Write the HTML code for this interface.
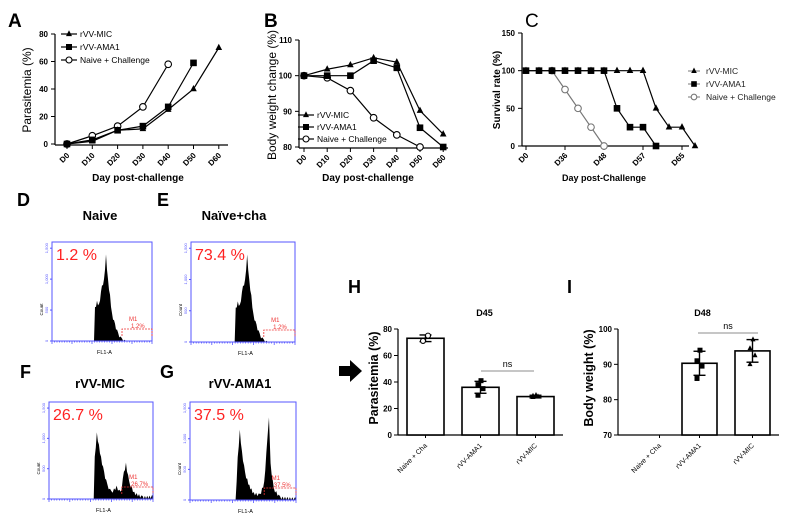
<!DOCTYPE html>
<html><head><meta charset="utf-8"><style>
body{margin:0;background:#fff}
svg{display:block;font-family:"Liberation Sans",Arial,sans-serif}
</style></head><body>
<svg id="fig" width="795" height="525" viewBox="0 0 795 525" xmlns="http://www.w3.org/2000/svg"></svg>
<script>
// ===== Data =====
const dayLabelsAB = ["D0","D10","D20","D30","D40","D50","D60"];
const paraMIC = [0,2,10,11,25,40,70];
const paraAMA1 = [0,3,10,13,27,59,null];
const paraNaive = [0,6,13,27,58,null,null];
const bwMIC = [100,101.8,103,105,103.8,90.2,83.6];
const bwAMA1 = [100,100,100,104.2,102.2,85.4,80];
const bwNaive = [100,99.4,95.8,88.2,83.4,80,null];
const survTickLabels = ["D0","D36","D48","D57","D65"];
const survTickIdx = [0,3,6,9,12];
const survMIC = [100,100,100,100,100,100,100,100,100,100,50,25,25,0];
const survAMA1 = [100,100,100,100,100,100,100,50,25,25,0,null,null,null];
const survNaive = [null,null,100,75,50,25,0,null,null,null,null,null,null,null];
const barCats = ["Naive + Cha","rVV-AMA1","rVV-MIC"];
const hValues = [73,36,29];
const hErr = [2.5,4.5,1];
const hPoints = [[71,75],[30,35,38,41],[28.5,29,29.5,30]];
const iValues = [null,90.3,93.8];
const iErr = [null,3.4,3.2];
const iPoints = [[],[86,89.5,91,94],[90,92.5,94.5,97]];
const histD = [[0.42,0],[0.43,550],[0.45,650],[0.47,600],[0.5,900],[0.52,1000],[0.54,1400],[0.56,1000],[0.58,750],[0.6,450],[0.63,280],[0.66,140],[0.7,40],[0.75,0]];
const histE = [[0.42,0],[0.43,550],[0.45,650],[0.47,600],[0.5,900],[0.52,1000],[0.54,1400],[0.56,1000],[0.58,750],[0.6,450],[0.63,280],[0.66,140],[0.7,40],[0.75,0]];
const histF = [[0.43,0],[0.44,700],[0.46,1100],[0.48,900],[0.5,700],[0.53,450],[0.56,250],[0.6,130],[0.65,220],[0.69,120],[0.72,450],[0.74,600],[0.77,300],[0.82,120],[0.9,50],[1,60]];
const histG = [[0.43,0],[0.45,700],[0.47,1150],[0.49,800],[0.52,450],[0.56,250],[0.6,130],[0.66,100],[0.7,300],[0.73,1000],[0.745,1350],[0.76,600],[0.79,200],[0.85,60],[1,40]];

const NS="http://www.w3.org/2000/svg";
const svg=document.getElementById('fig');
function el(tag,attrs,parent,text){const e=document.createElementNS(NS,tag);for(const k in attrs)e.setAttribute(k,attrs[k]);if(text!==undefined)e.textContent=text;(parent||svg).appendChild(e);return e;}
function g(name){const e=el('g',{});return e;}
function txt(p,x,y,s,o){const t=el('text',Object.assign({x:x,y:y},o||{}),p,s);return t;}
function marker(p,type,x,y,s){s=s||3.3;
 if(type==='tri')return el('polygon',{points:`${x},${y-s-0.7} ${x-s},${y+s*0.7} ${x+s},${y+s*0.7}`,fill:'#000'},p);
 if(type==='sq')return el('rect',{x:x-s,y:y-s,width:2*s,height:2*s,fill:'#000'},p);
 return el('circle',{cx:x,cy:y,r:s,fill:'#fff',stroke:p.__c||'#000','stroke-width':1.1},p);}
function series(p,vals,xf,yf,type,color){const pts=[];vals.forEach((v,i)=>{if(v!==null)pts.push([xf(i),yf(v)]);});
 el('polyline',{points:pts.map(q=>q.join(',')).join(' '),fill:'none',stroke:color||'#000','stroke-width':1.2},p);
 p.__c=color;pts.forEach(q=>marker(p,type,q[0],q[1]));}

// ===== Panel A =====
(function(){const p=g('panel-a');
 const x=i=>67+i*25.3,y=v=>144-v*(110/80);
 txt(p,8,27,'A',{'font-size':19,'font-weight':'bold'});
 el('line',{x1:55,y1:34,x2:55,y2:145,stroke:'#000','stroke-width':1.2},p);
 el('line',{x1:55,y1:145,x2:228,y2:145,stroke:'#000','stroke-width':1.2},p);
 [0,20,40,60,80].forEach(v=>{el('line',{x1:51,y1:y(v),x2:55,y2:y(v),stroke:'#000'},p);txt(p,48,y(v)+3,v,{'font-size':8,'font-weight':'bold','text-anchor':'end'});});
 dayLabelsAB.forEach((l,i)=>{el('line',{x1:x(i),y1:145,x2:x(i),y2:149,stroke:'#000'},p);txt(p,x(i)+3,156,l,{'font-size':8,'font-weight':'bold','text-anchor':'end',transform:`rotate(-45 ${x(i)+3} 156)`});});
 txt(p,31,90,'Parasitemia (%)',{'font-size':12,'text-anchor':'middle',transform:'rotate(-90 31 90)'});
 txt(p,138,181,'Day post-challenge',{'font-size':10,'font-weight':'bold','text-anchor':'middle'});
 series(p,paraNaive,x,y,'circ');series(p,paraAMA1,x,y,'sq');series(p,paraMIC,x,y,'tri');
 const lg=g('legend-a');[['tri','rVV-MIC',34],['sq','rVV-AMA1',47],['circ','Naive + Challenge',60]].forEach(r=>{el('line',{x1:61,y1:r[2],x2:77,y2:r[2],stroke:'#000','stroke-width':1.2},lg);marker(lg,r[0],69,r[2],3);txt(lg,80,r[2]+3,r[1],{'font-size':8.5});});
})();
// ===== Panel B =====
(function(){const p=g('panel-b');
 const x=i=>304+i*23.2,y=v=>147-(v-80)*(107/30);
 txt(p,264,27,'B',{'font-size':19,'font-weight':'bold'});
 el('line',{x1:299,y1:40,x2:299,y2:148,stroke:'#000','stroke-width':1.2},p);
 el('line',{x1:299,y1:148,x2:448,y2:148,stroke:'#000','stroke-width':1.2},p);
 [80,90,100,110].forEach(v=>{el('line',{x1:295,y1:y(v),x2:299,y2:y(v),stroke:'#000'},p);txt(p,292,y(v)+3,v,{'font-size':8,'font-weight':'bold','text-anchor':'end'});});
 dayLabelsAB.forEach((l,i)=>{el('line',{x1:x(i),y1:148,x2:x(i),y2:152,stroke:'#000'},p);txt(p,x(i)+3,158,l,{'font-size':8,'font-weight':'bold','text-anchor':'end',transform:`rotate(-45 ${x(i)+3} 158)`});});
 txt(p,276,95,'Body weight change (%)',{'font-size':12,'text-anchor':'middle',transform:'rotate(-90 276 95)'});
 txt(p,368,181,'Day post-challenge',{'font-size':10,'font-weight':'bold','text-anchor':'middle'});
 series(p,bwNaive,x,y,'circ');series(p,bwAMA1,x,y,'sq');series(p,bwMIC,x,y,'tri');
 const lg=g('legend-b');[['tri','rVV-MIC',115],['sq','rVV-AMA1',127],['circ','Naive + Challenge',139]].forEach(r=>{el('line',{x1:298,y1:r[2],x2:314,y2:r[2],stroke:'#000','stroke-width':1.2},lg);marker(lg,r[0],306,r[2],3);txt(lg,317,r[2]+3,r[1],{'font-size':8.5});});
})();
// ===== Panel C =====
(function(){const p=g('panel-c');
 const x=i=>526+i*13,y=v=>146-v*(113/150);
 txt(p,525,27,'C',{'font-size':19});
 el('line',{x1:522,y1:33,x2:522,y2:146,stroke:'#000','stroke-width':1.2},p);
 el('line',{x1:522,y1:146,x2:689,y2:146,stroke:'#000','stroke-width':1.2},p);
 [0,50,100,150].forEach(v=>{el('line',{x1:518,y1:y(v),x2:522,y2:y(v),stroke:'#000'},p);txt(p,515,y(v)+3,v,{'font-size':8,'font-weight':'bold','text-anchor':'end'});});
 survTickIdx.forEach((ix,k)=>{const xx=x(ix);el('line',{x1:xx,y1:146,x2:xx,y2:150,stroke:'#000'},p);txt(p,xx+3,156,survTickLabels[k],{'font-size':8,'font-weight':'bold','text-anchor':'end',transform:`rotate(-45 ${xx+3} 156)`});});
 txt(p,500,90,'Survival rate (%)',{'font-size':10,'font-weight':'bold','text-anchor':'middle',transform:'rotate(-90 500 90)'});
 txt(p,604,181,'Day post-Challenge',{'font-size':9,'font-weight':'bold','text-anchor':'middle'});
 series(p,survNaive,x,y,'circ','#777');series(p,survMIC,x,y,'tri');series(p,survAMA1,x,y,'sq');
 const lg=g('legend-c');[['tri','rVV-MIC',71],['sq','rVV-AMA1',84],['circ','Naive + Challenge',97]].forEach(r=>{el('line',{x1:688,y1:r[2],x2:700,y2:r[2],stroke:'#777','stroke-width':1},lg);lg.__c='#777';marker(lg,r[0],694,r[2],2.8);txt(lg,706,r[2]+3,r[1],{'font-size':8.5,fill:'#222'});});
})();
// ===== Flow histograms =====
function flow(name,letter,lx,ly,title,tx,ty,fx,fy,fw,fh,data,pct,m1){
 const p=g(name);
 txt(p,lx,ly,letter,{'font-size':18,'font-weight':'bold'});
 txt(p,tx,ty,title,{'font-size':13,'font-weight':'bold','text-anchor':'middle'});
 const xs=f=>fx+f*fw,ys=c=>fy+fh-c*(fh/1600);
 const pts=[[xs(data[0][0]),fy+fh]];data.forEach(d=>pts.push([xs(d[0]),ys(d[1])]));pts.push([xs(data[data.length-1][0]),fy+fh]);
 const fine=[];for(let i=0;i<pts.length-1;i++){const a=pts[i],b=pts[i+1];const n=Math.max(1,Math.round((b[0]-a[0])/1.2));for(let k=0;k<n;k++){const t=k/n;const yy=a[1]+(b[1]-a[1])*t;fine.push([a[0]+(b[0]-a[0])*t,Math.min(fy+fh,yy+((k%2)?3:0))]);}}
 fine.push(pts[pts.length-1]);
 const h=el('polygon',{points:fine.map(q=>q.join(',')).join(' '),fill:'#000'},p);
 
 el('rect',{x:fx,y:fy,width:fw,height:fh,fill:'none',stroke:'#55f','stroke-width':1},p);
 [[0,'0'],[500,'500'],[1000,'1,000'],[1500,'1,500']].forEach(t=>{el('line',{x1:fx-2,y1:ys(t[0]),x2:fx,y2:ys(t[0]),stroke:'#55f'},p);txt(p,fx-4,ys(t[0]),t[1],{'font-size':4,fill:'#55f','text-anchor':'middle',transform:`rotate(-90 ${fx-4} ${ys(t[0])})`});});
 txt(p,fx-9,fy+fh/2+18,'Count',{'font-size':4.5,'text-anchor':'middle',transform:`rotate(-90 ${fx-9} ${fy+fh/2+18})`});
 for(let i=0;i<=40;i++){const xx=fx+i*fw/40;el('line',{x1:xx,y1:fy+fh,x2:xx,y2:fy+fh+(i%8==0?3:1.5),stroke:'#55f','stroke-width':0.8},p);}
 txt(p,fx+fw/2-5,fy+fh+13,'FL1-A',{'font-size':5.5});
 txt(p,fx+4,fy+18,pct,{'font-size':16,fill:'#f22'});
 el('path',{d:`M${xs(0.7)} ${fy+fh-5} V${fy+fh-12} H${fx+fw} V${fy+fh-5}`,fill:'none',stroke:'#e33','stroke-width':0.8,'stroke-dasharray':'2,1'},p);
 txt(p,xs(0.77),fy+fh-20,'M1',{'font-size':6,fill:'#e33'});txt(p,xs(0.79),fy+fh-13,m1,{'font-size':6,fill:'#e33'});
}
flow('panel-d','D',17,206,'Naive',100,220,52,242,100,99,histD,'1.2 %','1.2%');
flow('panel-e','E',157,206,'Naïve+cha',234,220,191,242,104,100,histE,'73.4 %','1.2%');
flow('panel-f','F',20,378,'rVV-MIC',100,388,49,402,104,97,histF,'26.7 %','26.7%');
flow('panel-g','G',160,378,'rVV-AMA1',240,388,190,402,106,98,histG,'37.5 %','37.5%');
(function(){const a=el('polygon',{points:'339,366 350,366 350,360 362,371 350,382 350,376 339,376',fill:'#000'});})();
// ===== Bar panels =====
function bars(name,letter,lx,ax,x0,yTop,yBot,vmin,vmax,ticks,title,ytitle,ytx,vals,errs,ptsArr,barX,barW,axEnd,ns,nsY,markers){
 const p=g(name);const y=v=>yBot-(v-vmin)*(yBot-yTop)/(vmax-vmin);
 txt(p,lx,293,letter,{'font-size':18,'font-weight':'bold'});
 txt(p,(x0+axEnd)/2+4,316,title,{'font-size':9,'font-weight':'bold','text-anchor':'middle'});
 el('line',{x1:ax,y1:yTop,x2:ax,y2:yBot,stroke:'#000','stroke-width':1.2},p);
 el('line',{x1:ax,y1:yBot,x2:axEnd,y2:yBot,stroke:'#000','stroke-width':1.2},p);
 ticks.forEach(v=>{el('line',{x1:ax-4,y1:y(v),x2:ax,y2:y(v),stroke:'#000'},p);txt(p,ax-6,y(v)+3,v,{'font-size':8,'font-weight':'bold','text-anchor':'end'});});
 txt(p,ytx,(yTop+yBot)/2-4,ytitle,{'font-size':12.5,'font-weight':'bold','text-anchor':'middle',transform:`rotate(-90 ${ytx} ${(yTop+yBot)/2-4})`});
 barCats.forEach((c,i)=>{const cx=barX[i]+barW/2;el('line',{x1:cx,y1:yBot,x2:cx,y2:yBot+3,stroke:'#000'},p);txt(p,cx+2,yBot+11,c,{'font-size':7,'text-anchor':'end',transform:`rotate(-45 ${cx+2} ${yBot+11})`});
  if(vals[i]===null)return;
  const b=el('rect',{x:barX[i],y:y(vals[i]),width:barW,height:yBot-y(vals[i]),fill:'#fff',stroke:'#000','stroke-width':1.6},p);
  
  const e1=y(vals[i]+errs[i]),e2=y(vals[i]-errs[i]);
  el('line',{x1:cx,y1:e1,x2:cx,y2:e2,stroke:'#000','stroke-width':1.4},p);
  el('line',{x1:cx-6,y1:e1,x2:cx+6,y2:e1,stroke:'#000','stroke-width':1.4},p);
  el('line',{x1:cx-6,y1:e2,x2:cx+6,y2:e2,stroke:'#000','stroke-width':1.4},p);
  ptsArr[i].forEach((v,k)=>marker(p,markers[i],cx+((k%2)?2.5:-2.5)+(k==3?-2:0),y(v),2.5));
 });
 el('line',{x1:ns[0],y1:nsY,x2:ns[1],y2:nsY,stroke:'#666','stroke-width':0.8},p);
 txt(p,(ns[0]+ns[1])/2,nsY-4,'ns',{'font-size':9,'text-anchor':'middle'});
}
bars('panel-h','H',348,398,398,329,435,0,80,[0,20,40,60,80],'D45','Parasitemia (%)',378,hValues,hErr,hPoints,[407,462,517],37,563,[481,534],371,['circ','sq','tri']);
bars('panel-i','I',567,618,618,329,435,70,100,[70,80,90,100],'D48','Body weight (%)',593,iValues,iErr,iPoints,[642,682,735],35,779,[698,758],333,['circ','sq','tri']);
</script>
</body></html>
